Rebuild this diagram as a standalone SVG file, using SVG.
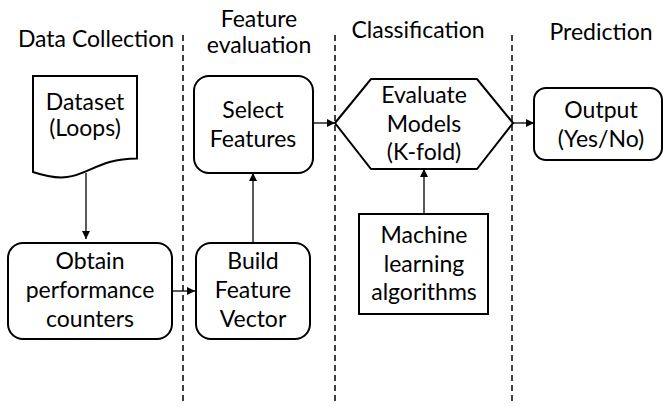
<svg xmlns="http://www.w3.org/2000/svg" width="663" height="407" viewBox="0 0 663 407">
  <defs>
    <marker id="arrow" viewBox="0 0 10 10" refX="10" refY="5" markerWidth="8" markerHeight="8" markerUnits="userSpaceOnUse" orient="auto">
      <path d="M0,0 L10,5 L0,10 Z" fill="#000"/>
    </marker>
    <style>
      .lane { stroke: #000; stroke-width: 1.5; stroke-dasharray: 6 4; fill: none; }
      .box { fill: #fff; stroke: #000; stroke-width: 2; }
      .conn { stroke: #000; stroke-width: 1.3; fill: none; marker-end: url(#arrow); }
      text { font-family: Lato, "Open Sans", sans-serif; font-size: 23px; fill: #000; text-anchor: middle; }
      .title { font-size: 23px; }
    </style>
  </defs>

  <rect width="663" height="407" fill="#fff"/>

  <!-- swimlane separators -->
  <g id="lanes">
    <line class="lane" x1="183" y1="35" x2="183" y2="404"/>
    <line class="lane" x1="335" y1="35" x2="335" y2="404"/>
    <line class="lane" x1="512" y1="35" x2="512" y2="404"/>
  </g>

  <!-- lane titles -->
  <g id="titles">
    <text class="title" x="96" y="47">Data Collection</text>
    <text class="title" x="259" y="27">Feature</text>
    <text class="title" x="259" y="53">evaluation</text>
    <text class="title" x="418" y="38">Classification</text>
    <text class="title" x="601" y="40">Prediction</text>
  </g>

  <!-- connectors -->
  <g id="connectors">
    <line class="conn" x1="86" y1="173" x2="86" y2="239"/>
    <line class="conn" x1="172" y1="291" x2="195" y2="291"/>
    <line class="conn" x1="253" y1="243" x2="253" y2="173"/>
    <line class="conn" x1="313" y1="123" x2="335" y2="123"/>
    <line class="conn" x1="424" y1="214" x2="424" y2="169"/>
    <line class="conn" x1="513" y1="123" x2="534" y2="123"/>
  </g>

  <g id="dataset">
    <path class="box" d="M33,76 H137 V158.4 C85,158.4 85,189.8 33,172 Z"/>
    <text x="85" y="110">Dataset</text>
    <text x="85" y="136">(Loops)</text>
  </g>

  <g id="obtain">
    <rect class="box" x="8" y="243" width="164" height="96" rx="15"/>
    <text x="90" y="269">Obtain</text>
    <text x="90" y="298">performance</text>
    <text x="90" y="327">counters</text>
  </g>

  <g id="build">
    <rect class="box" x="196" y="243" width="114" height="96" rx="15"/>
    <text x="253" y="269">Build</text>
    <text x="253" y="298">Feature</text>
    <text x="253" y="327">Vector</text>
  </g>

  <g id="select">
    <rect class="box" x="194" y="76" width="119" height="97" rx="15"/>
    <text x="253" y="118">Select</text>
    <text x="253" y="147">Features</text>
  </g>

  <g id="evaluate">
    <polygon class="box" points="335,123 371,79 477,79 513,123 477,169 371,169"/>
    <text x="424" y="103">Evaluate</text>
    <text x="424" y="132">Models</text>
    <text x="424" y="160">(K-fold)</text>
  </g>

  <g id="ml">
    <rect class="box" x="359" y="214" width="129" height="100"/>
    <text x="424" y="243">Machine</text>
    <text x="424" y="272">learning</text>
    <text x="424" y="300">algorithms</text>
  </g>

  <g id="output">
    <rect class="box" x="534" y="88" width="128" height="72" rx="12"/>
    <text x="601" y="118">Output</text>
    <text x="601" y="147">(Yes/No)</text>
  </g>
</svg>
